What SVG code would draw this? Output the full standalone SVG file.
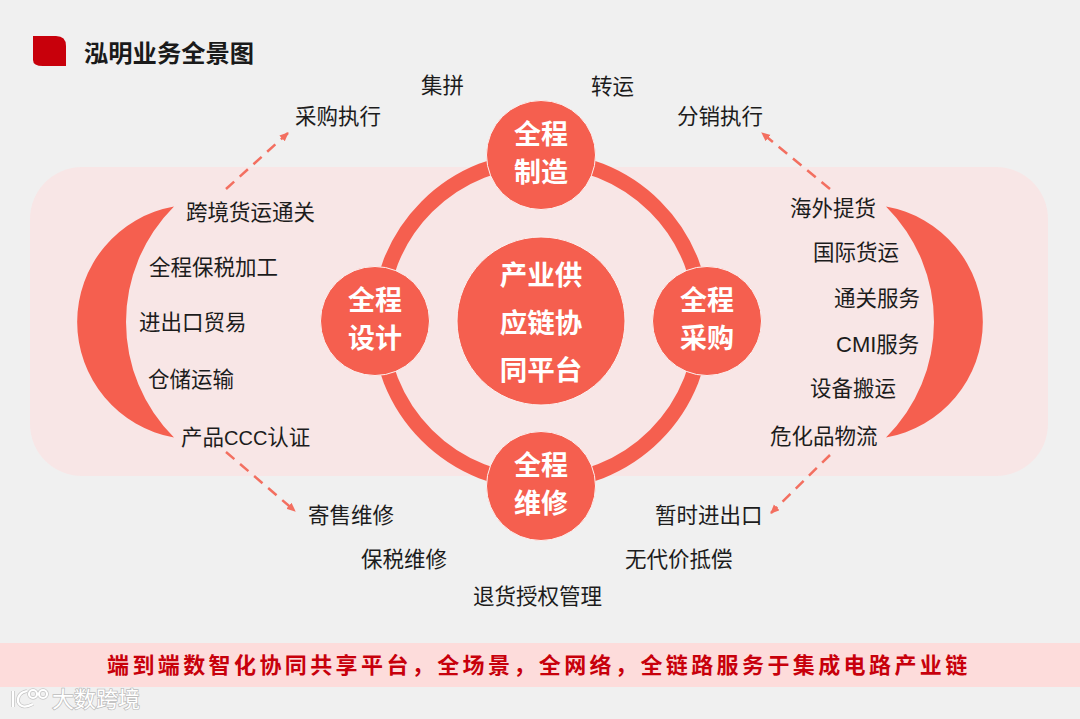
<svg xmlns="http://www.w3.org/2000/svg" width="1080" height="719" viewBox="0 0 1080 719">
<defs>
<marker id="arr" markerWidth="12" markerHeight="12" refX="8" refY="4" orient="auto" markerUnits="userSpaceOnUse"><path d="M0 0L9 4L0 8Z" fill="#f36f60"/></marker>
</defs>
<style>
text{font-family:"Noto Sans CJK SC","Liberation Sans",sans-serif}
.l{font-size:21.5px;fill:#1c1c1c}
.n{font-size:27px;font-weight:700;fill:#fff;text-anchor:middle}
.m{font-size:27.5px}
.c{fill:#f55f4f;stroke:#fdf1f0;stroke-width:1}
.cr{fill:#f55f4f}
.d{fill:none;stroke:#f36f60;stroke-width:2.5;stroke-dasharray:11 7.5;marker-end:url(#arr)}
.la{font-family:"Liberation Sans",sans-serif}
.wg{fill:none;stroke:#c4c4c4;stroke-width:3.6}
.ww{fill:none;stroke:#fff;stroke-width:2.2}
</style>
<rect width="1080" height="719" fill="#f0f0f0"/>
<g id="title">
<path d="M33 36H56Q66 36 66 46V66H43Q33 66 33 60Z" fill="#c8000b"/>
<text x="84" y="62" font-size="24.3" font-weight="700" fill="#1a1a1a">泓明业务全景图</text>
</g>
<rect id="panel" x="30" y="167" width="1018" height="309" rx="52" fill="#f8e6e6"/>
<g id="crescent-left"><path class="cr" d="M174 206.500A117.300 117.300 0 0 0 174 437.500A163 163 0 0 1 174 206.500Z"/></g>
<g id="crescent-right"><path class="cr" d="M886 206.500A117.300 117.300 0 0 1 886 437.500A163 163 0 0 0 886 206.500Z"/></g>
<circle id="ring" cx="541" cy="321" r="161.500" fill="none" stroke="#f55f4f" stroke-width="15"/>
<g id="connectors">
<path class="d" d="M226 189L288 133"/>
<path class="d" d="M830 189L762 133"/>
<path class="d" d="M226 452L295 511"/>
<path class="d" d="M830 455L771 513"/>
</g>
<g id="node-center"><circle class="c" cx="541" cy="321" r="84"/>
<text class="n m" x="541" y="285">产业供</text><text class="n m" x="541" y="333">应链协</text><text class="n m" x="541" y="380">同平台</text></g>
<g id="node-top"><circle class="c" cx="541" cy="155" r="54.500"/>
<text class="n" x="541" y="144">全程</text><text class="n" x="541" y="182">制造</text></g>
<g id="node-bottom"><circle class="c" cx="541" cy="486" r="54.500"/>
<text class="n" x="541" y="475">全程</text><text class="n" x="541" y="513">维修</text></g>
<g id="node-left"><circle class="c" cx="375" cy="321" r="54.500"/>
<text class="n" x="375" y="310">全程</text><text class="n" x="375" y="348">设计</text></g>
<g id="node-right"><circle class="c" cx="707" cy="321" r="54.500"/>
<text class="n" x="707" y="310">全程</text><text class="n" x="707" y="348">采购</text></g>
<g id="labels">
<text class="l" x="421" y="93">集拼</text>
<text class="l" x="591" y="94">转运</text>
<text class="l" x="295" y="124">采购执行</text>
<text class="l" x="677" y="124">分销执行</text>
<text class="l" x="186" y="220">跨境货运通关</text>
<text class="l" x="149" y="275">全程保税加工</text>
<text class="l" x="139" y="330">进出口贸易</text>
<text class="l" x="148" y="387">仓储运输</text>
<text class="l" x="181" y="445">产品<tspan class="la" font-size="20">CCC</tspan>认证</text>
<text class="l" x="790" y="216">海外提货</text>
<text class="l" x="813" y="260">国际货运</text>
<text class="l" x="834" y="306">通关服务</text>
<text class="l" x="836" y="352"><tspan class="la" font-size="22">CMI</tspan>服务</text>
<text class="l" x="810" y="396">设备搬运</text>
<text class="l" x="770" y="444">危化品物流</text>
<text class="l" x="308" y="523">寄售维修</text>
<text class="l" x="361" y="567">保税维修</text>
<text class="l" x="473" y="604">退货授权管理</text>
<text class="l" x="655" y="523">暂时进出口</text>
<text class="l" x="625" y="567">无代价抵偿</text>
</g>
<g id="banner">
<rect x="0" y="643" width="1080" height="44" fill="#fddcdb"/>
<text x="107" y="672.500" font-size="22" font-weight="700" fill="#c8000b" letter-spacing="3.4">端到端数智化协同共享平台，全场景，全网络，全链路服务于集成电路产业链</text>
</g>
<g id="watermark">
<path class="wg" d="M13 691V707M27 691Q17 693 18 702Q22 710 33 704"/>
<circle class="wg" cx="33" cy="694" r="4"/><circle class="wg" cx="43" cy="694" r="4"/>
<path class="ww" d="M13 691V707M27 691Q17 693 18 702Q22 710 33 704"/>
<circle class="ww" cx="33" cy="694" r="4"/><circle class="ww" cx="43" cy="694" r="4"/>
<text x="52" y="707" font-size="22" fill="#fff" stroke="#bdbdbd" stroke-width="1.500" paint-order="stroke">大数跨境</text>
</g>
</svg>
